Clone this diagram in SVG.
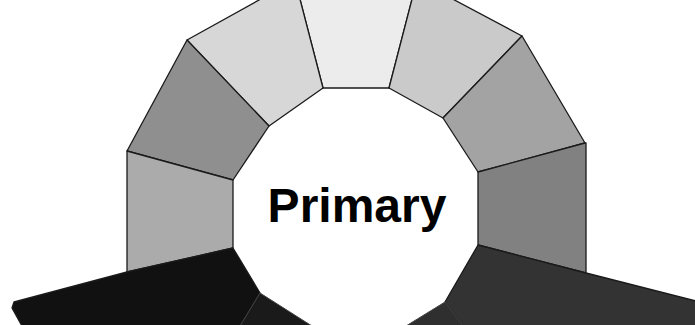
<svg xmlns="http://www.w3.org/2000/svg" width="695" height="325" viewBox="0 0 695 325">
  <style>
    .seg { stroke: #1a1a1a; stroke-width: 1.3; stroke-linejoin: round; }
    .dark { stroke: #444444; stroke-width: 1; }
    .label { font-family: "Liberation Sans", Arial, sans-serif; font-weight: bold; font-size: 48px; fill: #000; }
  </style>
  <rect width="695" height="325" fill="#ffffff"/>
  <g id="wheel">
    <g id="seg-top"><polygon class="seg" fill="#ececec" points="323,88 389,88 417,-20 295,-20"/></g>
    <g id="seg-top-left-1"><polygon class="seg" fill="#d7d7d7" points="269,126 323,88 295,-20 187,40"/></g>
    <g id="seg-top-left-2"><polygon class="seg" fill="#8f8f8f" points="233,180 269,126 187,40 127,151"/></g>
    <g id="seg-left"><polygon class="seg" fill="#ababab" points="233,180 233,248 127,272 127,151"/></g>
    <g id="seg-top-right-1"><polygon class="seg" fill="#cacaca" points="389,88 443,118 522,36 417,-20"/></g>
    <g id="seg-top-right-2"><polygon class="seg" fill="#a3a3a3" points="443,118 478,172 585,143 522,36"/></g>
    <g id="seg-right"><polygon class="seg" fill="#818181" points="478,172 478,245 586,273 586,143 585,143"/></g>
    <g id="seg-bottom-left"><polygon class="seg" fill="#111111" points="233,248 127,272 14,302 12,308 22,326 240,326 260,293"/></g>
    <g id="seg-bottom-left-2"><polygon class="seg dark" fill="#1a1a1a" points="260,293 312,326 240,326"/></g>
    <g id="seg-bottom-right"><polygon class="seg" fill="#333333" points="478,245 586,273 700,302 700,326 463,326 445,302"/></g>
    <g id="seg-bottom-right-2"><polygon class="seg dark" fill="#2f2f2f" points="445,302 463,326 406,326"/></g>
  </g>
  <g id="connectors"/>
  <g id="center-label"><text class="label" x="357" y="222" text-anchor="middle">Primary</text></g>
</svg>
